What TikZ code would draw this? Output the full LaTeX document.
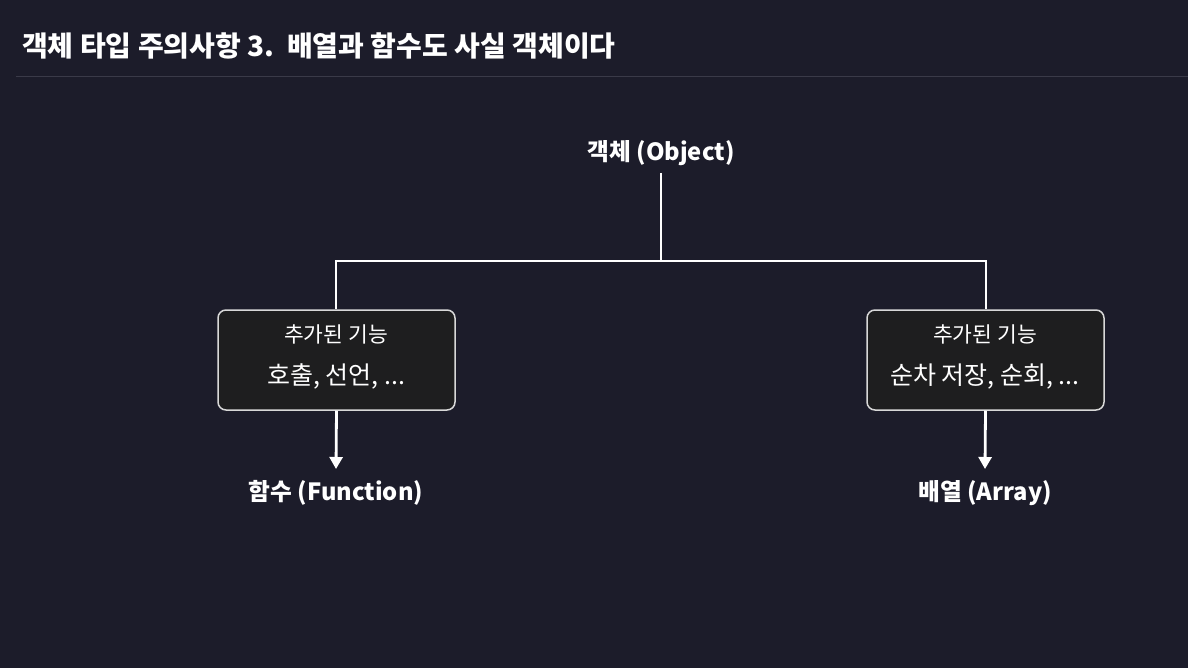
\documentclass[tikz,border=0pt]{standalone}
\usepackage{fontspec}
\setmainfont{Noto Sans CJK KR}
\usetikzlibrary{arrows.meta}
\definecolor{bg}{HTML}{1C1C2A}
\definecolor{boxfill}{HTML}{1E1E1F}
\definecolor{boxline}{HTML}{D8D8D8}
\definecolor{sep}{HTML}{3A3A48}
\tikzset{
  lbl/.style={text=white, font=\fontsize{23.7}{28}\selectfont\bfseries, inner sep=0pt, anchor=base},
  small/.style={text=white, font=\fontsize{21.5}{25}\selectfont, anchor=base, inner sep=0pt},
  big/.style={text=white, font=\fontsize{25}{29}\selectfont, anchor=base, inner sep=0pt},
  featbox/.style={draw=boxline, line width=1.5pt, fill=boxfill, rounded corners=8pt, minimum width=237pt, minimum height=100pt, inner sep=0pt},
  conn/.style={draw=white, line width=2.8pt},
  arr/.style={conn, -{Triangle[length=12pt,width=13pt]}},
}
\begin{document}
\begin{tikzpicture}[x=1pt,y=-1pt]
\fill[bg] (0,0) rectangle (1188,668);
\useasboundingbox (0,0) rectangle (1188,668);
\node[text=white, font=\fontsize{28}{32}\selectfont\bfseries, anchor=base west, inner sep=0pt] (title) at (22,56.5) {객체 타입 주의사항 3.\ \ 배열과 함수도 사실 객체이다};
\coordinate (sepL) at (16,77);
\coordinate (sepR) at (1188,77);
\draw[sep, line width=1pt] (sepL) -- (sepR);

\node[lbl] (obj) at (661,161) {객체 (Object)};
\coordinate (objb) at (661,173);
\coordinate (junc) at (661,261);
\coordinate (jl) at (336,261);
\coordinate (jr) at (986,261);

\node[featbox] (fbox) at (336.5,360) {};
\node[featbox] (abox) at (985.5,360) {};
\node[small] (ft1) at (336,342) {추가된 기능};
\node[big] (ft2) at (336,384) {호출, 선언, ...};
\node[small] (at1) at (985,342) {추가된 기능};
\node[big] (at2) at (985,384) {순차 저장, 순회, ...};

\node[lbl] (func) at (336,500) {함수 (Function)};
\node[lbl] (arr) at (985,500) {배열 (Array)};
\coordinate (ftip) at (336,469);
\coordinate (atip) at (985,469);

\draw[conn] (objb) -- (junc);
\draw[conn, line cap=rect] (jl) -- (jr);
\draw[conn] (jl) -- (jl |- fbox.north);
\draw[conn] (jr) -- (jr |- abox.north);
\draw[arr] (fbox.south) -- (ftip);
\draw[arr] (abox.south) -- (atip);
\end{tikzpicture}
\end{document}
